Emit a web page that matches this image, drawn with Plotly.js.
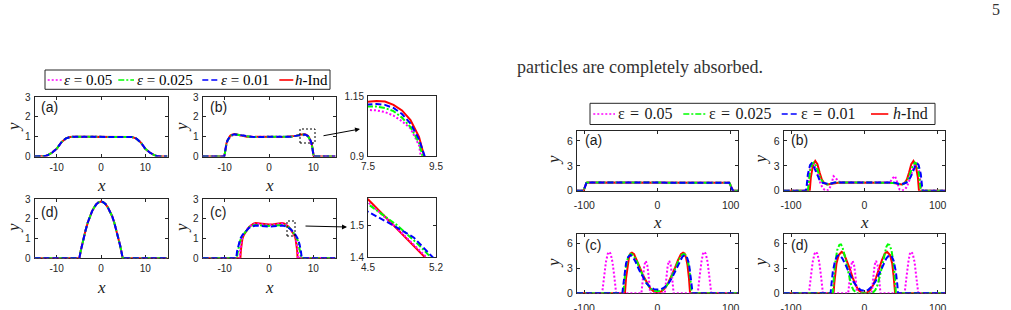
<!DOCTYPE html>
<html>
<head>
<meta charset="utf-8">
<script src="https://cdn.plot.ly/plotly-3.0.1.min.js"></script>
<style>
  html, body { margin: 0; padding: 0; background: #fff; }
  #chart { width: 1011px; height: 310px; }
</style>
</head>
<body>
<div id="chart"></div>
<script>
// ---------- Figure 1 profiles (x in [-15, 15]) ----------
// (a) all four solutions coincide
const f1a_x = [-15,-13.5,-12.5,-12,-11,-10,-9,-8,-7,-6,-3,0,3,6,7,8,9,10,11,12,12.5,13.5,15];
const f1a_y = [0,0,0.03,0.07,0.2,0.39,0.7,0.9,0.98,1,1,1,1,1,0.98,0.9,0.7,0.39,0.2,0.07,0.03,0,0];

// (b) plateau with edge overshoot
const f1b_x = [-15,-10.1,-9.95,-9.8,-9.6,-9.4,-9.2,-9,-8.75,-8.5,-8.25,-8,-7.75,-7.5,-7,
  -6,-5,-4,-3,-2,-1,0,1,2,3,4,5,6,
  7,7.5,7.75,8,8.25,8.5,8.75,9,9.1,9.2,9.3,9.4,9.6,9.8,9.95,10.1,15];
const f1b_eps05 = [0,0,0.15,0.41,0.61,0.74,0.84,0.945,1.015,1.045,1.068,1.083,1.09,1.092,1.08,
  1.04,1.0,0.99,0.985,0.99,1.0,1.0,1.0,0.99,0.985,0.99,1.0,1.04,
  1.08,1.092,1.09,1.083,1.068,1.045,1.015,0.945,0.885,0.84,0.79,0.74,0.61,0.41,0.15,0,0];
const f1b_eps025 = [0,0,0.16,0.43,0.64,0.78,0.875,0.955,1.02,1.06,1.087,1.10,1.106,1.106,1.09,
  1.04,1.0,0.99,0.985,0.99,1.0,1.0,1.0,0.99,0.985,0.99,1.0,1.04,
  1.09,1.106,1.106,1.10,1.087,1.06,1.02,0.955,0.915,0.875,0.83,0.78,0.64,0.43,0.16,0,0];
const f1b_eps01 = [0,0,0.18,0.45,0.66,0.8,0.895,0.97,1.035,1.075,1.10,1.113,1.117,1.115,1.095,
  1.04,1.0,0.99,0.985,0.99,1.0,1.0,1.0,0.99,0.985,0.99,1.0,1.04,
  1.095,1.115,1.117,1.113,1.10,1.075,1.035,0.97,0.935,0.895,0.85,0.8,0.66,0.45,0.18,0,0];
const f1b_hInd = [0,0,0.18,0.45,0.66,0.8,0.895,0.98,1.05,1.09,1.113,1.127,1.129,1.126,1.10,
  1.04,1.0,0.99,0.985,0.99,1.0,1.0,1.0,0.99,0.985,0.99,1.0,1.04,
  1.10,1.126,1.129,1.127,1.113,1.09,1.05,0.98,0.94,0.895,0.85,0.8,0.66,0.45,0.18,0,0];

// (c) raised plateau, solutions differ near the fronts
const f1c_eps05_x = [-15,-6.6,-6.5,-6.3,-6.1,-5.8,-5.4,-5.103,-4.8,-4.5,-4,-3.5,-3,-2,-1,0,1,2,3,3.5,4,4.5,4.8,5.103,5.4,5.8,6.1,6.3,6.5,6.6,15];
const f1c_eps05_y = [0,0,0.4,0.75,0.98,1.2,1.32,1.4,1.49,1.572,1.67,1.73,1.76,1.73,1.7,1.69,1.7,1.73,1.76,1.73,1.67,1.572,1.49,1.4,1.32,1.2,0.98,0.75,0.4,0,0];
const f1c_eps025_x = [-15,-7.25,-7.1,-6.9,-6.5,-6,-5.5,-5.172,-5,-4.8,-4.5,-4,-3,-2,-1,0,1,2,3,4,4.5,4.8,5,5.172,5.5,6,6.5,6.9,7.1,7.25,15];
const f1c_eps025_y = [0,0,0.25,0.55,0.9,1.14,1.3,1.4,1.445,1.5,1.566,1.64,1.69,1.67,1.65,1.64,1.65,1.67,1.69,1.64,1.566,1.5,1.445,1.4,1.3,1.14,0.9,0.55,0.25,0,0];
const f1c_eps01_x = [-15,-7.4,-7.2,-6.9,-6.5,-6,-5.5,-5.2,-4.97,-4.71,-4.5,-4,-3,-2,-1,0,1,2,3,4,4.5,4.71,4.97,5.2,5.5,6,6.5,6.9,7.2,7.4,15];
const f1c_eps01_y = [0,0,0.35,0.7,0.98,1.18,1.32,1.4,1.462,1.508,1.542,1.6,1.66,1.64,1.62,1.61,1.62,1.64,1.66,1.6,1.542,1.508,1.462,1.4,1.32,1.18,0.98,0.7,0.35,0,0];
const f1c_hInd_x = [-15,-6.45,-6.35,-6.2,-6,-5.7,-5.4,-5.086,-4.8,-4.5,-4,-3.5,-3,-2,-1,0,1,2,3,3.5,4,4.5,4.8,5.086,5.4,5.7,6,6.2,6.35,6.45,15];
const f1c_hInd_y = [0,0,0.4,0.75,0.98,1.17,1.3,1.4,1.49,1.581,1.68,1.75,1.78,1.75,1.72,1.71,1.72,1.75,1.78,1.75,1.68,1.581,1.49,1.4,1.3,1.17,0.98,0.75,0.4,0,0];

// (d) compactly supported hump, all solutions coincide
const f1d_x = [-15,-4.9,-4.6,-4.3,-4,-3.5,-3,-2.5,-2,-1.5,-1,-0.5,0,0.5,1,1.5,2,2.5,3,3.5,4,4.3,4.6,4.9,15];
const f1d_y = [0,0,0.34,0.66,0.96,1.4,1.8,2.14,2.39,2.59,2.75,2.84,2.87,2.84,2.75,2.59,2.39,2.14,1.8,1.4,0.96,0.66,0.34,0,0];

// ---------- Figure 2 profiles (x in [-110, 110]) ----------
const f2a_x = [-110,-101,-100,-99,-98,-97,-96,-50,0,50,97,98,99,100,101,102,103,110];
const f2a_y = [0,0,0.25,0.55,0.8,0.95,1,1,1,1,1,0.95,0.8,0.55,0.3,0.1,0,0];

const f2b_eps05_x = [-110,-78,-77,-75,-72,-69,-66,-63,-60,-57,-54,-51,-48,-45,-42,-39,-36,-32,0,32,36,39,42,45,48,51,54,57,60,63,66,69,72,75,77,78,110];
const f2b_eps05_y = [0,0,0.6,2.3,3.3,3.2,2.6,1.7,0.9,0.35,0.08,0.03,0.15,0.8,1.75,1.55,1.15,1.0,1.0,1.0,1.15,1.55,1.75,0.8,0.15,0.03,0.08,0.35,0.9,1.7,2.6,3.2,3.3,2.3,0.6,0,0];
const f2b_eps025_x = [-110,-77,-76,-74,-71,-69,-66,-63,-60,-56,-52,-48,-44,-40,0,40,44,48,52,56,60,63,66,69,71,74,76,77,110];
const f2b_eps025_y = [0,0,0.8,2.4,3.3,3.4,3.0,2.2,1.5,0.95,0.75,0.8,0.92,1.0,1.0,1.0,0.92,0.8,0.75,0.95,1.5,2.2,3.0,3.4,3.3,2.4,0.8,0,0];
const f2b_eps01_x = [-110,-80,-79,-77,-74,-72,-69,-65,-61,-57,-53,-48,-44,-40,0,40,44,48,53,57,61,65,69,72,74,77,79,80,110];
const f2b_eps01_y = [0,0,0.3,2.0,3.1,3.3,2.9,2.0,1.3,0.95,0.85,0.8,0.9,1.0,1.0,1.0,0.9,0.8,0.85,0.95,1.3,2.0,2.9,3.3,3.1,2.0,0.3,0,0];
const f2b_hInd_x = [-110,-74.5,-73,-70,-67,-64,-61,-58,-55,-51,-46,-42,-36,-30,0,30,36,42,46,51,55,58,61,64,67,70,73,74.5,110];
const f2b_hInd_y = [0,0,1.6,3.1,3.6,3.2,2.2,1.35,0.95,0.74,0.82,0.9,0.97,1.0,1.0,1.0,0.97,0.9,0.82,0.74,0.95,1.35,2.2,3.2,3.6,3.1,1.6,0,0];

// eps = 0.05 splits into four humps in (c) and (d)
const f2cd_eps05_x = [-110,-76,-75,-73,-70.5,-68,-66,-64,-61.5,-59,-57,-56.5,
  -22,-21,-19.5,-18,-16,-14,-12.5,-11,-10,
  10,11,12.5,14,16,18,19.5,21,22,
  55,55.5,57.5,60,62,64,66,68.5,71,73,73.5,110];
const f2cd_eps05_y = [0,0,0.5,2.0,3.75,4.75,5.0,4.75,3.75,2.0,0.5,0,
  0,1.0,2.4,3.4,3.9,3.4,2.4,1.0,0,
  0,1.0,2.4,3.4,3.9,3.4,2.4,1.0,0,
  0,0.5,2.0,3.75,4.75,5.0,4.75,3.75,2.0,0.5,0,0];

const f2c_eps025_x = [-110,-46.5,-45.5,-43.5,-41,-38.5,-36,-33,-29,-25,-20,-15,-10,-5,0,5,10,15,20,25,29,33,36,38.5,41,43.5,45.5,46.5,110];
const f2c_eps025_y = [0,0,1.2,3.0,4.1,4.6,4.75,4.6,4.0,3.1,2.1,1.25,0.6,0.3,0.25,0.3,0.6,1.25,2.1,3.1,4.0,4.6,4.75,4.6,4.1,3.0,1.2,0,0];
const f2c_eps01_x = [-110,-48,-47,-45,-43,-40,-37,-34,-30,-25,-20,-15,-10,-5,0,5,10,15,20,25,30,34,37,40,43,45,47,48,110];
const f2c_eps01_y = [0,0,0.8,2.4,3.6,4.4,4.6,4.4,3.8,2.8,1.9,1.2,0.75,0.5,0.45,0.5,0.75,1.2,1.9,2.8,3.8,4.4,4.6,4.4,3.6,2.4,0.8,0,0];
const f2c_hInd_x = [-110,-44.5,-43,-41,-39,-37,-35,-32,-28,-24,-20,-15,-10,-5,0,5,10,15,20,24,28,32,35,37,39,41,43,44.5,110];
const f2c_hInd_y = [0,0,1.8,3.4,4.3,4.8,4.9,4.7,4.0,3.1,2.2,1.3,0.6,0.22,0.12,0.22,0.6,1.3,2.2,3.1,4.0,4.7,4.9,4.8,4.3,3.4,1.8,0,0];

const f2d_eps025_x = [-110,-43,-42,-40,-37,-34,-32,-30,-27,-24,-21,-18,-15,-12,-10,10,12,15,18,21,24,27,30,32,34,37,40,42,43,110];
const f2d_eps025_y = [0,0,1.5,3.5,5.2,5.85,5.9,5.6,4.6,3.3,2.0,1.0,0.4,0.1,0,0,0.1,0.4,1.0,2.0,3.3,4.6,5.6,5.9,5.85,5.2,3.5,1.5,0,0];
const f2d_eps01_x = [-110,-46,-45,-43,-40,-37,-34,-30,-25,-20,-15,-10,-5,0,5,10,15,20,25,30,34,37,40,43,45,46,110];
const f2d_eps01_y = [0,0,1.0,2.6,3.9,4.5,4.6,4.2,3.3,2.3,1.4,0.8,0.4,0.3,0.4,0.8,1.4,2.3,3.3,4.2,4.6,4.5,3.9,2.6,1.0,0,0];
const f2d_hInd_x = [-110,-42,-41,-40,-38,-35,-31,-28,-24,-20,-16,-12,-8,-4,0,4,8,12,16,20,24,28,31,35,38,40,41,42,110];
const f2d_hInd_y = [0,0,1.2,2.0,3.6,4.6,5.0,4.8,4.0,3.0,1.9,1.0,0.4,0.1,0.05,0.1,0.4,1.0,1.9,3.0,4.0,4.8,5.0,4.6,3.6,2.0,1.2,0,0];

// ---------- tick labels ----------
const f1_xticks = [-10, 0, 10];
const f1_xtext = ['-10', '0', '10'];
const f1_yticks = [0, 1, 2, 3];
const f2_xticks = [-100, 0, 100];
const f2_xtext = ['-100', '0', '100'];
const f2_yticks = [0, 3, 6];
const legendLabels1 = ['<i>ε</i> = 0.05', '<i>ε</i> = 0.025', '<i>ε</i> = 0.01', '<i>h</i>-Ind'];
const legendLabels2 = ['ε\u2004=\u20040.05', 'ε\u2004=\u20040.025', 'ε\u2004=\u20040.01', '<i>h</i>-Ind'];

// ---------- drawing ----------
const W = 1011, H = 310;
const px = v => v / W;
const py = v => 1 - v / H;

const LINE = {
  eps05:  {color: '#ff00ff', width: 2, dash: '2px,2px'},
  eps025: {color: '#00ff00', width: 2, dash: '6px,2px,2px,2px'},
  eps01:  {color: '#0000ff', width: 2, dash: '6px,3px'},
  hInd:   {color: '#ff0000', width: 2, dash: 'solid'}
};
const AX = '#262626';
const tickFont = {family: 'Liberation Sans, Arial, sans-serif', size: 10.5, color: AX};

const layout = {
  width: W, height: H,
  margin: {l: 0, r: 0, t: 0, b: 0},
  paper_bgcolor: '#fff', plot_bgcolor: '#fff',
  showlegend: false,
  annotations: [], shapes: []
};
const traces = [];
let axisCount = 0;

function panel(box, xr, yr, xt, xtt, yt, ytt, opt) {
  axisCount += 1;
  const n = axisCount === 1 ? '' : String(axisCount);
  const common = {
    showline: true, mirror: 'allticks', linecolor: AX, linewidth: 1,
    ticks: 'inside', ticklen: 3, tickwidth: 1, tickcolor: AX,
    showgrid: false, zeroline: false, fixedrange: true, layer: 'below traces',
    tickfont: Object.assign({}, tickFont, {size: opt.size})
  };
  layout['xaxis' + n] = Object.assign({}, common, {
    domain: [px(box[0]), px(box[1])], range: xr, anchor: 'y' + n,
    tickmode: 'array', tickvals: xt, ticktext: xtt, ticklabelstandoff: opt.xoff
  });
  layout['yaxis' + n] = Object.assign({}, common, {
    domain: [py(box[3]), py(box[2])], range: yr, anchor: 'x' + n,
    tickmode: 'array', tickvals: yt, ticktext: ytt, ticklabelstandoff: opt.yoff
  });
  return {x: 'x' + n, y: 'y' + n};
}

function curve(ax, xs, ys, style) {
  traces.push({
    type: 'scatter', mode: 'lines', x: xs, y: ys,
    xaxis: ax.x, yaxis: ax.y, line: style, hoverinfo: 'skip'
  });
}

function drawSet(ax, sets) {
  // h-Ind first so the epsilon curves lie over it
  curve(ax, sets.hInd[0], sets.hInd[1], LINE.hInd);
  curve(ax, sets.eps05[0], sets.eps05[1], LINE.eps05);
  curve(ax, sets.eps025[0], sets.eps025[1], LINE.eps025);
  curve(ax, sets.eps01[0], sets.eps01[1], LINE.eps01);
}

function text(x, y, s, font, opts) {
  layout.annotations.push(Object.assign({
    x: px(x), y: py(y), xref: 'paper', yref: 'paper', text: s,
    showarrow: false, xanchor: 'center', yanchor: 'middle', font: font
  }, opts || {}));
}

const f1yText = f1_yticks.map(String);
const f2yText = f2_yticks.map(String);
const o1 = {size: 10, xoff: 1, yoff: 1};
const o2 = {size: 10.5, xoff: 5, yoff: 1};

// Figure 1 panels
const A1 = panel([34.5, 167.5, 97, 156.5], [-15, 15], [0, 3], f1_xticks, f1_xtext, f1_yticks, f1yText, o1);
const B1 = panel([202.5, 335.5, 97, 156.5], [-15, 15], [0, 3], f1_xticks, f1_xtext, f1_yticks, f1yText, o1);
const D1 = panel([34.5, 167.5, 199, 258.3], [-15, 15], [0, 3], f1_xticks, f1_xtext, f1_yticks, f1yText, o1);
const C1 = panel([202.5, 335.5, 199, 258.3], [-15, 15], [0, 3], f1_xticks, f1_xtext, f1_yticks, f1yText, o1);
const BZ = panel([368, 436, 96, 156], [7.5, 9.5], [0.9, 1.15], [7.5, 9.5], ['7.5', '9.5'], [0.9, 1.15], ['0.9', '1.15'], o1);
const CZ = panel([368, 436, 198.3, 257.3], [4.5, 5.2], [1.4, 1.584], [4.5, 5.2], ['4.5', '5.2'], [1.4, 1.5], ['1.4', '1.5'], o1);

drawSet(A1, {hInd: [f1a_x, f1a_y], eps05: [f1a_x, f1a_y], eps025: [f1a_x, f1a_y], eps01: [f1a_x, f1a_y]});
const setB = {hInd: [f1b_x, f1b_hInd], eps05: [f1b_x, f1b_eps05], eps025: [f1b_x, f1b_eps025], eps01: [f1b_x, f1b_eps01]};
drawSet(B1, setB);
drawSet(BZ, setB);
const setC = {hInd: [f1c_hInd_x, f1c_hInd_y], eps05: [f1c_eps05_x, f1c_eps05_y],
              eps025: [f1c_eps025_x, f1c_eps025_y], eps01: [f1c_eps01_x, f1c_eps01_y]};
drawSet(C1, setC);
drawSet(CZ, setC);
drawSet(D1, {hInd: [f1d_x, f1d_y], eps05: [f1d_x, f1d_y], eps025: [f1d_x, f1d_y], eps01: [f1d_x, f1d_y]});

// Figure 2 panels
const A2 = panel([577, 738, 131, 190.7], [-110, 110], [0, 7.2], f2_xticks, f2_xtext, f2_yticks, f2yText, o2);
const B2 = panel([783.7, 945, 131, 190.7], [-110, 110], [0, 7.2], f2_xticks, f2_xtext, f2_yticks, f2yText, o2);
const C2 = panel([577, 738, 233.5, 293.3], [-110, 110], [0, 7.2], f2_xticks, f2_xtext, f2_yticks, f2yText, o2);
const D2 = panel([783.7, 945, 233.5, 293.3], [-110, 110], [0, 7.2], f2_xticks, f2_xtext, f2_yticks, f2yText, o2);

drawSet(A2, {hInd: [f2a_x, f2a_y], eps05: [f2a_x, f2a_y], eps025: [f2a_x, f2a_y], eps01: [f2a_x, f2a_y]});
drawSet(B2, {hInd: [f2b_hInd_x, f2b_hInd_y], eps05: [f2b_eps05_x, f2b_eps05_y],
             eps025: [f2b_eps025_x, f2b_eps025_y], eps01: [f2b_eps01_x, f2b_eps01_y]});
drawSet(C2, {hInd: [f2c_hInd_x, f2c_hInd_y], eps05: [f2cd_eps05_x, f2cd_eps05_y],
             eps025: [f2c_eps025_x, f2c_eps025_y], eps01: [f2c_eps01_x, f2c_eps01_y]});
drawSet(D2, {hInd: [f2d_hInd_x, f2d_hInd_y], eps05: [f2cd_eps05_x, f2cd_eps05_y],
             eps025: [f2d_eps025_x, f2d_eps025_y], eps01: [f2d_eps01_x, f2d_eps01_y]});

// Panel tags
const tagFont = {family: 'Liberation Sans, Arial, sans-serif', size: 14, color: '#1a1a1a'};
[[39, 107, '(a)'], [207.5, 107, '(b)'], [39, 211.5, '(d)'], [207.5, 211.5, '(c)'],
 [582.5, 140, '(a)'], [788.5, 140, '(b)'], [582.5, 245, '(c)'], [788.5, 245, '(d)']]
  .forEach(t => text(t[0], t[1], t[2], tagFont, {xanchor: 'left'}));

// Axis titles
const mathFont = {family: 'Liberation Serif, Times New Roman, serif', size: 17, color: '#1a1a1a'};
[[101, 185], [269, 185], [101, 287], [269, 287], [657.5, 222], [864.3, 222]]
  .forEach(p => text(p[0], p[1], '<i>x</i>', mathFont));
[[13, 127], [181, 127], [13, 228], [181, 228], [553, 160], [759.5, 160], [553, 263], [759.5, 263]]
  .forEach(p => text(p[0], p[1], '<i>y</i>', mathFont, {textangle: -90}));

// Legends
const legendKeys = ['eps05', 'eps025', 'eps01', 'hInd'];
function legend(boxPx, yc, samples, textLeft, labels, font) {
  layout.shapes.push({type: 'rect', xref: 'paper', yref: 'paper',
    x0: px(boxPx[0]), x1: px(boxPx[1]), y0: py(boxPx[3]), y1: py(boxPx[2]),
    line: {color: AX, width: 1}, fillcolor: '#fff', layer: 'below'});
  legendKeys.forEach((k, i) => {
    const st = LINE[k];
    layout.shapes.push({type: 'line', xref: 'paper', yref: 'paper',
      x0: px(samples[i][0]), x1: px(samples[i][1]), y0: py(yc), y1: py(yc),
      line: {color: st.color, width: 1.6, dash: st.dash}});
    text(textLeft[i], yc, labels[i], font, {xanchor: 'left'});
  });
}
const legFont1 = {family: 'Liberation Serif, Times New Roman, serif', size: 15, color: '#000'};
legend([45, 330, 70, 89.3], 80, [[47.7, 61.7], [118.3, 134], [202.3, 217.3], [279.3, 293.3]],
       [62, 134.5, 218.5, 292.5], legendLabels1, legFont1);
const legFont2 = {family: 'Liberation Serif, Times New Roman, serif', size: 16, color: '#1a1a1a'};
legend([590, 935, 103.3, 124.5], 114, [[593.3, 615], [683.3, 706.7], [781.7, 798.3], [871, 888.3]],
       [615.5, 707, 798.5, 890.5], legendLabels2, legFont2);

// Zoom boxes and arrows to the insets
[[300, 315, 129, 143], [287, 295, 221, 236]].forEach(b => layout.shapes.push({
  type: 'rect', xref: 'paper', yref: 'paper',
  x0: px(b[0]), x1: px(b[1]), y0: py(b[3]), y1: py(b[2]),
  line: {color: '#000', width: 1, dash: '2px,2px'}}));
[[360, 129, 322, 136], [347, 227, 304, 226]].forEach(a => layout.annotations.push({
  x: px(a[0]), y: py(a[1]), xref: 'paper', yref: 'paper', text: '',
  showarrow: true, arrowhead: 2, arrowsize: 1, arrowwidth: 1, arrowcolor: '#000',
  ax: a[2] - a[0], ay: a[3] - a[1]}));

// Page furniture
text(515, 67, 'particles are completely absorbed.',
     {family: 'Liberation Serif, Times New Roman, serif', size: 18, color: '#333'}, {xanchor: 'left'});
text(996, 9, '5', {family: 'Liberation Serif, Times New Roman, serif', size: 16, color: '#333'});

Plotly.newPlot('chart', traces, layout, {staticPlot: true, displayModeBar: false});
</script>
</body>
</html>
